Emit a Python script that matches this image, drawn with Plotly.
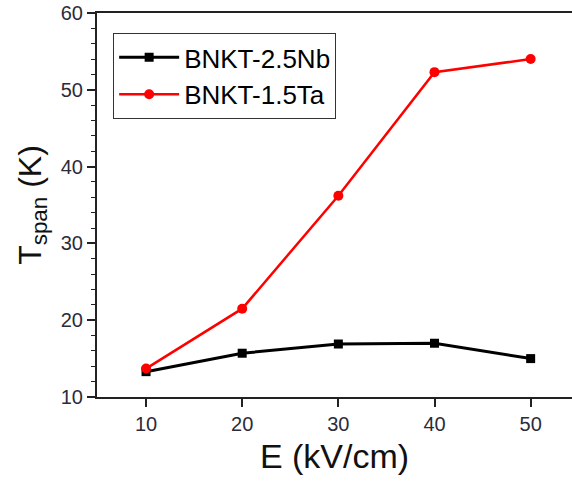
import plotly.graph_objects as go

E = [10, 20, 30, 40, 50]
nb_vals = [13.3, 15.7, 16.9, 17.0, 15.0]
ta_vals = [13.7, 21.5, 36.2, 52.3, 54.0]
x_ticks = [10, 20, 30, 40, 50]
y_ticks = [10, 20, 30, 40, 50, 60]

fig = go.Figure()
fig.add_trace(go.Scatter(x=E, y=nb_vals, mode="lines+markers", name="BNKT-2.5Nb",
                         line=dict(color="black", width=3),
                         marker=dict(symbol="square", size=9, color="black")))
fig.add_trace(go.Scatter(x=E, y=ta_vals, mode="lines+markers", name="BNKT-1.5Ta",
                         line=dict(color="#ff0000", width=2.5),
                         marker=dict(symbol="circle", size=10, color="#ff0000")))

tickfont = dict(family="Liberation Sans, Arial", size=20, color="#2b2b3a")
fig.update_layout(
    width=572, height=484,
    margin=dict(l=97, r=0, t=13, b=87),
    plot_bgcolor="white", paper_bgcolor="white",
    font=dict(family="Liberation Sans, Arial", color="black"),
    showlegend=True,
    legend=dict(x=0.034, y=0.948, xanchor="left", yanchor="top",
                bordercolor="#333", borderwidth=1, bgcolor="white",
                itemwidth=60,
                font=dict(size=26, color="black"), tracegroupgap=0),
    xaxis=dict(range=[4.9, 54.3], tickvals=x_ticks, showgrid=False, zeroline=False,
               showline=True, linecolor="#222", linewidth=2, mirror=True,
               ticks="outside", ticklen=8, tickwidth=1.5, tickcolor="#222",
               tickfont=tickfont,
               title=dict(text="E (kV/cm)", font=dict(size=34, color="#111"), standoff=10)),
    yaxis=dict(range=[10, 60], tickvals=y_ticks, showgrid=False, zeroline=False,
               showline=True, linecolor="#222", linewidth=2,
               ticks="outside", ticklen=8, tickwidth=1.5, tickcolor="#222",
               tickfont=tickfont,
               minor=dict(dtick=2, ticks="outside", ticklen=4, tickcolor="#222", tickwidth=1.2),
               title=dict(text="T<sub>span</sub> (K)", font=dict(size=32, color="#111"), standoff=10)),
)
fig.write_html("out.html")
